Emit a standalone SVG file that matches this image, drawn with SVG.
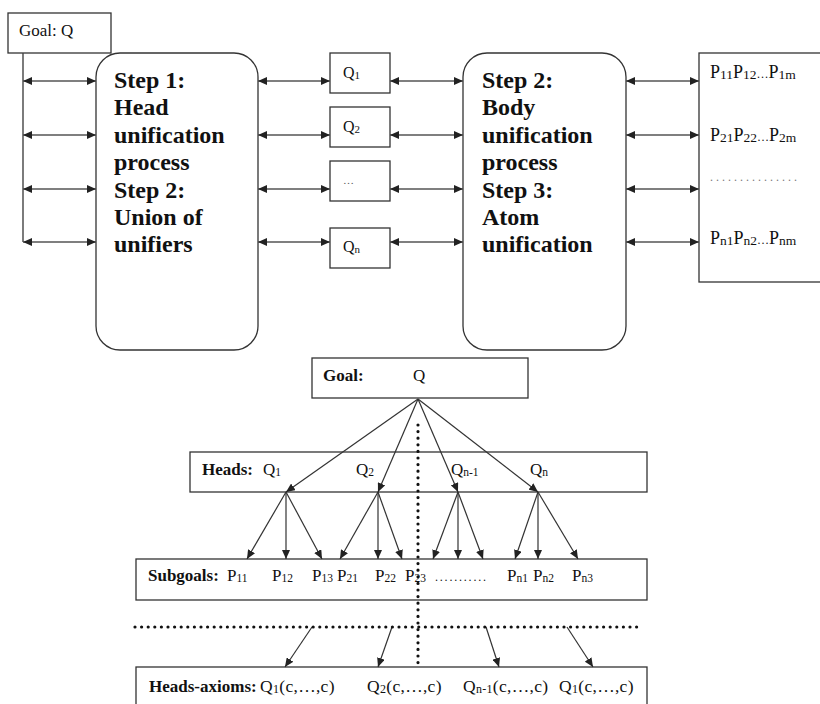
<svg xmlns="http://www.w3.org/2000/svg" width="820" height="704" viewBox="0 0 820 704">
<style>
.box{fill:#fff;stroke:#333;stroke-width:1.3}
.ln{stroke:#444;stroke-width:1.4;fill:none}
.dbl{stroke:#555;stroke-width:1.6;fill:none;marker-start:url(#ah);marker-end:url(#ah)}
.arr{stroke:#333;stroke-width:1.2;fill:none;marker-end:url(#ah)}
.dot{stroke:#111;stroke-width:3.2;stroke-linecap:round;stroke-dasharray:0 6.6;fill:none}
</style>
<defs>
<marker id="ah" markerUnits="userSpaceOnUse" markerWidth="9" markerHeight="8" refX="9" refY="4" orient="auto-start-reverse">
<path d="M0,0 L9,4 L0,8 z" fill="#222"/>
</marker>
</defs>

<g font-family="Liberation Serif, Times New Roman, serif" fill="#111">

<g id="goal-top">
<rect class="box" x="8" y="13" width="103" height="40"/>
<text font-size="17" x="19" y="36">Goal: Q</text>
</g>

<g id="step1" font-size="24" font-weight="bold">
<rect class="box" x="96" y="53" width="162" height="297" rx="24"/>
<text x="114" y="88">Step 1:</text>
<text x="114" y="115">Head</text>
<text x="114" y="143">unification</text>
<text x="114" y="170">process</text>
<text x="114" y="198">Step 2:</text>
<text x="114" y="225">Union of</text>
<text x="114" y="252">unifiers</text>
</g>

<g id="q1"><rect class="box" x="330" y="53" width="60" height="40"/><text font-size="16" x="343" y="78">Q<tspan font-size="11" dy="1">1</tspan></text></g>
<g id="q2"><rect class="box" x="330" y="107" width="60" height="40"/><text font-size="16" x="343" y="132">Q<tspan font-size="11" dy="1">2</tspan></text></g>
<g id="qdots"><rect class="box" x="330" y="161" width="60" height="40"/><text font-size="11" fill="#555" x="343" y="184">…</text></g>
<g id="qn"><rect class="box" x="330" y="228" width="60" height="40"/><text font-size="16" x="343" y="252">Q<tspan font-size="11" dy="1">n</tspan></text></g>

<g id="step2" font-size="24" font-weight="bold">
<rect class="box" x="463" y="53" width="163" height="297" rx="24"/>
<text x="482" y="88">Step 2:</text>
<text x="482" y="115">Body</text>
<text x="482" y="143">unification</text>
<text x="482" y="170">process</text>
<text x="482" y="198">Step 3:</text>
<text x="482" y="225">Atom</text>
<text x="482" y="252">unification</text>
</g>

<g id="pbox" font-size="18">
<rect class="box" x="699" y="53" width="130" height="229"/>
<text x="710" y="78">P<tspan font-size="13.5" dy="1">11</tspan><tspan dy="-1">P</tspan><tspan font-size="13.5" dy="1">12</tspan><tspan dy="-1" font-size="12">…</tspan><tspan>P</tspan><tspan font-size="13.5" dy="1">1m</tspan></text>
<text x="710" y="141">P<tspan font-size="13.5" dy="1">21</tspan><tspan dy="-1">P</tspan><tspan font-size="13.5" dy="1">22</tspan><tspan dy="-1" font-size="12">…</tspan><tspan>P</tspan><tspan font-size="13.5" dy="1">2m</tspan></text>
<text font-size="12" fill="#777" letter-spacing="3" x="710" y="181">...............</text>
<text x="710" y="244">P<tspan font-size="13.5" dy="1">n1</tspan><tspan dy="-1">P</tspan><tspan font-size="13.5" dy="1">n2</tspan><tspan dy="-1" font-size="12">…</tspan><tspan>P</tspan><tspan font-size="13.5" dy="1">nm</tspan></text>
</g>

<g id="goal-bottom" font-size="17">
<rect class="box" x="312" y="358" width="216" height="40"/>
<text font-weight="bold" x="323" y="381">Goal:</text>
<text x="413" y="381">Q</text>
</g>

<g id="heads" font-size="17">
<rect class="box" x="190" y="452" width="457" height="40"/>
<text font-weight="bold" x="202" y="475">Heads:</text>
<text x="263" y="475">Q<tspan font-size="11.5" dy="1">1</tspan></text>
<text x="356" y="475">Q<tspan font-size="11.5" dy="1">2</tspan></text>
<text x="451" y="475">Q<tspan font-size="11.5" dy="1">n-1</tspan></text>
<text x="530" y="475">Q<tspan font-size="11.5" dy="1">n</tspan></text>
</g>

<g id="subgoals" font-size="17">
<rect class="box" x="136" y="559" width="511" height="41"/>
<text font-weight="bold" x="148" y="581">Subgoals:</text>
<text x="227" y="581">P<tspan font-size="11.5" dy="1">11</tspan></text>
<text x="272" y="581">P<tspan font-size="11.5" dy="1">12</tspan></text>
<text x="312" y="581">P<tspan font-size="11.5" dy="1">13</tspan></text>
<text x="337" y="581">P<tspan font-size="11.5" dy="1">21</tspan></text>
<text x="375" y="581">P<tspan font-size="11.5" dy="1">22</tspan></text>
<text x="405" y="581">P<tspan font-size="11.5" dy="1">23</tspan></text>
<text font-size="12" letter-spacing="1.8" x="435" y="581">...........</text>
<text x="507" y="581">P<tspan font-size="11.5" dy="1">n1</tspan></text>
<text x="533" y="581">P<tspan font-size="11.5" dy="1">n2</tspan></text>
<text x="572" y="581">P<tspan font-size="11.5" dy="1">n3</tspan></text>
</g>

<g id="heads-axioms" font-size="17">
<rect class="box" x="136" y="667" width="511" height="50"/>
<text font-weight="bold" x="149" y="692">Heads-axioms:</text>
<g font-size="17.5" letter-spacing="0.3">
<text x="260" y="692">Q<tspan font-size="12" dy="1">1</tspan><tspan dy="-1">(c,…,c)</tspan></text>
<text x="367" y="692">Q<tspan font-size="12" dy="1">2</tspan><tspan dy="-1">(c,…,c)</tspan></text>
<text x="463" y="692">Q<tspan font-size="12" dy="1">n-1</tspan><tspan dy="-1">(c,…,c)</tspan></text>
<text x="559" y="692">Q<tspan font-size="12" dy="1">1</tspan><tspan dy="-1">(c,…,c)</tspan></text>
</g>
</g>

</g>

<g id="connectors">
<path class="ln" d="M23,53 V242"/>
<path class="dbl" d="M23,81 H96"/>
<path class="dbl" d="M23,135 H96"/>
<path class="dbl" d="M23,189 H96"/>
<path class="dbl" d="M23,242 H96"/>
<path class="dbl" d="M258,81 H330"/>
<path class="dbl" d="M258,135 H330"/>
<path class="dbl" d="M258,189 H330"/>
<path class="dbl" d="M258,242 H330"/>
<path class="dbl" d="M390,81 H463"/>
<path class="dbl" d="M390,135 H463"/>
<path class="dbl" d="M390,189 H463"/>
<path class="dbl" d="M390,242 H463"/>
<path class="dbl" d="M626,81 H699"/>
<path class="dbl" d="M626,135 H699"/>
<path class="dbl" d="M626,189 H699"/>
<path class="dbl" d="M626,242 H699"/>

<path class="arr" d="M418,399 L286,492"/>
<path class="arr" d="M418,399 L378,492"/>
<path class="arr" d="M418,399 L458,492"/>
<path class="arr" d="M418,399 L538,492"/>

<path class="arr" d="M286,492 L247,559"/>
<path class="arr" d="M286,492 L286,559"/>
<path class="arr" d="M286,492 L322,559"/>
<path class="arr" d="M378,492 L340,559"/>
<path class="arr" d="M378,492 L378,559"/>
<path class="arr" d="M378,492 L402,559"/>
<path class="arr" d="M458,492 L433,559"/>
<path class="arr" d="M458,492 L458,559"/>
<path class="arr" d="M458,492 L483,559"/>
<path class="arr" d="M538,492 L515,559"/>
<path class="arr" d="M538,492 L538,559"/>
<path class="arr" d="M538,492 L578,559"/>

<path class="arr" d="M312,627 L285,667"/>
<path class="arr" d="M392,627 L378,667"/>
<path class="arr" d="M486,627 L499,667"/>
<path class="arr" d="M567,627 L593,667"/>

<path class="dot" d="M418,425 V667"/>
<path class="dot" d="M135,627 H643"/>
</g>
</svg>
